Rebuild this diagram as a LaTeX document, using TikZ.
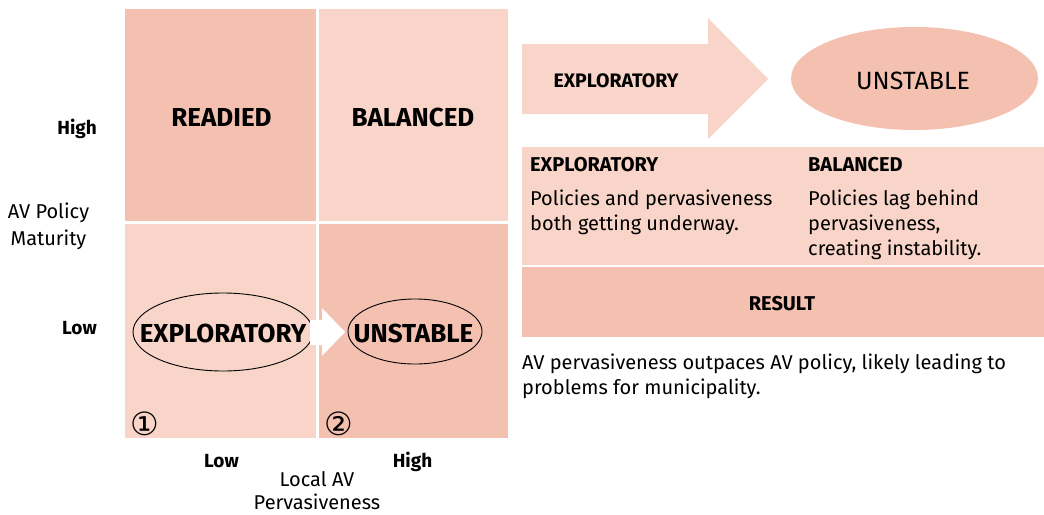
\documentclass[tikz,border=0pt]{standalone}
\usepackage{fontspec}
\setmainfont{Fira Sans}
\newfontfamily\symfont{DejaVu Sans}
\usetikzlibrary{shapes.geometric}
\definecolor{darkpink}{RGB}{244,193,177}
\definecolor{lightpink}{RGB}{248,213,200}
\newcommand{\lines}[2]{\begin{tabular}[t]{@{}#1@{}}#2\end{tabular}}
\tikzset{
  quad/.style={rectangle, inner sep=0, outer sep=0, minimum height=#1},
  bigbold/.style={inner sep=0, anchor=base, font=\fontsize{26}{30}\selectfont\bfseries},
  axisb/.style={inner sep=0, font=\fontsize{19}{21}\selectfont\bfseries},
  axisr/.style={inner sep=0, anchor=base, font=\fontsize{20}{#1}\selectfont},
  hdr/.style={inner sep=0, anchor=base west, font=\fontsize{20}{25}\selectfont\bfseries},
  body/.style={inner sep=0, anchor=base west, font=\fontsize{20}{25}\selectfont},
  ell/.style={ellipse, draw=black, line width=0.9pt, inner sep=0},
  numsym/.style={inner sep=0, font=\fontsize{32}{32}\selectfont\symfont},
}
\begin{document}
\begin{tikzpicture}[x=1pt,y=-1pt]
\useasboundingbox[fill=white] (0,0) rectangle (1044,514);
% quadrants
\node[quad=212, minimum width=191, fill=darkpink] (tl) at (220.5,115) {};
\node[quad=212, minimum width=189, fill=lightpink] (tr) at (413.5,115) {};
\node[quad=214, minimum width=191, fill=lightpink] (bl) at (220.5,331) {};
\node[quad=214, minimum width=189, fill=darkpink] (br) at (413.5,331) {};
\node[bigbold] (readied) at (221.5,126) {READIED};
\node[bigbold] (balanced) at (413,126) {BALANCED};
% ellipses in lower quadrants
\node[ell, minimum width=180, minimum height=78] (e1) at (223,332) {};
\node[ell, minimum width=134, minimum height=65] (e2) at (415,331.5) {};
\node[bigbold] (expl) at (223,342) {EXPLORATORY};
\node[bigbold] (unst) at (413.5,342) {UNSTABLE};
% white block arrow
\fill[white] (310,320) -- (322,320) -- (322,308) -- (345,332) -- (322,356) -- (322,345) -- (310,345) -- cycle;
\node[numsym] (n1) at (144.5,424) {①};
\node[numsym] (n2) at (338.5,424) {②};
% axis labels
\node[axisb, anchor=base east] (yhigh) at (97,134) {High};
\node[axisb, anchor=base east] (ylow) at (97,334) {Low};
\node[axisr=27] (ytitle) at (48.5,218) {\lines{c}{AV Policy\\Maturity}};
\node[axisb, anchor=base] (xlow) at (221.5,467) {Low};
\node[axisb, anchor=base] (xhigh) at (412.5,467) {High};
\node[axisr=23.5] (xtitle) at (317,486) {\lines{c}{Local AV\\Pervasiveness}};
% top right arrow and ellipse
\fill[lightpink] (522,44) -- (708,44) -- (708,18) -- (768,79) -- (708,139) -- (708,114) -- (522,114) -- cycle;
\node[inner sep=0, anchor=base, font=\fontsize{19.5}{24}\selectfont\bfseries] (aexpl) at (616,87) {EXPLORATORY};
\node[ellipse, fill=darkpink, inner sep=0, minimum width=247, minimum height=103] (e3) at (914.5,78.5) {};
\node[inner sep=0, anchor=base, font=\fontsize{25}{28}\selectfont] (eunst) at (913,89) {UNSTABLE};
% table
\node[quad=118, minimum width=522, fill=lightpink] (tab) at (783,206) {};
\node[quad=70, minimum width=522, fill=darkpink] (res) at (783,302) {};
\node[hdr] (h1) at (530,171) {EXPLORATORY};
\node[hdr] (h2) at (808,171) {BALANCED};
\node[body] (b1) at (530,205) {\lines{l}{Policies and pervasiveness\\both getting underway.}};
\node[body] (b2) at (808,205) {\lines{l}{Policies lag behind\\pervasiveness,\\creating instability.}};
\node[inner sep=0, anchor=base, font=\fontsize{20}{25}\selectfont\bfseries] (rtxt) at (782,310) {RESULT};
\node[body] (rbody) at (522,369) {\lines{l}{AV pervasiveness outpaces AV policy, likely leading to\\problems for municipality.}};
\end{tikzpicture}
\end{document}
